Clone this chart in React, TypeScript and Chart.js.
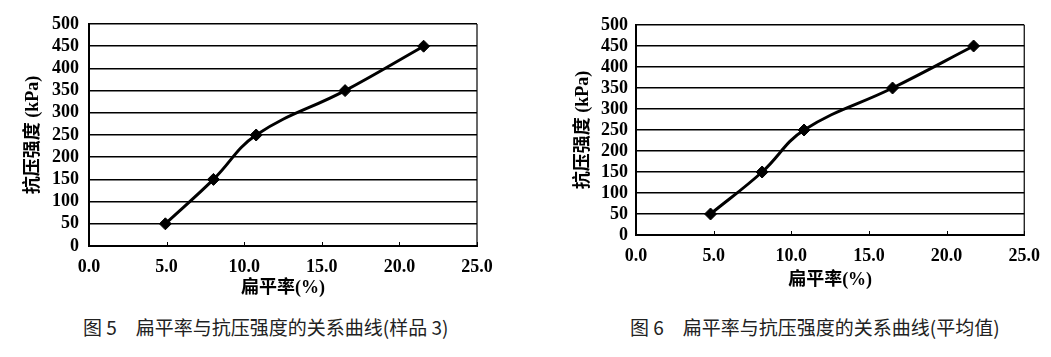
import React, { useEffect, useRef } from "react";
import { Chart, registerables } from "chart.js";

Chart.register(...registerables);

// ---- data ----
const xTickValues = [0, 5, 10, 15, 20, 25];
const xTickLabels = ["0.0", "5.0", "10.0", "15.0", "20.0", "25.0"];
const yTickValues = [0, 50, 100, 150, 200, 250, 300, 350, 400, 450, 500];

const sample3Flatness = [4.92, 8.02, 10.77, 16.5, 21.56];
const sample3Strength = [50, 150, 250, 350, 450];

const averageFlatness = [4.8, 8.12, 10.82, 16.52, 21.74];
const averageStrength = [50, 150, 250, 350, 450];

const xAxisTitle = "扁平率(%)";
const yAxisTitle = "抗压强度 (kPa)";
const caption5 = "图 5　扁平率与抗压强度的关系曲线(样品 3)";
const caption6 = "图 6　扁平率与抗压强度的关系曲线(平均值)";

const tickFont = { family: "'Liberation Serif', 'Noto Sans CJK SC'", size: 18, weight: "bold" as const };
const titleFont = { family: "'Liberation Serif', 'Noto Sans CJK SC'", size: 18, weight: "bold" as const, lineHeight: 1.2 };

const framePlugin = {
  id: "frame",
  afterDraw(chart: any) {
    const { ctx, chartArea } = chart;
    const xs = chart.scales.x;
    ctx.save();
    ctx.strokeStyle = "#000";
    ctx.lineWidth = 1.2;
    ctx.beginPath();
    ctx.moveTo(chartArea.right, chartArea.top);
    ctx.lineTo(chartArea.right, chartArea.bottom);
    ctx.stroke();
    ctx.lineWidth = 1;
    ctx.beginPath();
    xTickValues.forEach((v) => {
      const px = Math.round(xs.getPixelForValue(v)) + 0.5;
      ctx.moveTo(px, chartArea.bottom);
      ctx.lineTo(px, chartArea.bottom - 4);
    });
    ctx.stroke();
    ctx.restore();
  },
};

type Area = { left: number; top: number; right: number; bottom: number };

function LineChart(props: {
  xs: number[];
  ys: number[];
  left: number;
  width: number;
  height: number;
  area: Area;
  yTitlePad: number;
  xTitlePad: number;
  yTickPad: number;
  xTickPad: number;
}) {
  const ref = useRef<HTMLCanvasElement>(null);
  useEffect(() => {
    const { xs, ys, width, height, area, yTitlePad, xTitlePad, yTickPad, xTickPad } = props;
    const chart = new Chart(ref.current!, {
      type: "scatter",
      data: {
        datasets: [
          {
            data: xs.map((x, i) => ({ x, y: ys[i] })),
            showLine: true,
            tension: 0.4,
            borderColor: "#000",
            borderWidth: 3,
            pointStyle: "rectRot",
            pointRadius: 6,
            pointBackgroundColor: "#000",
            pointBorderColor: "#000",
            pointBorderWidth: 1,
          },
        ],
      },
      options: {
        responsive: false,
        animation: false,
        layout: { padding: { left: 0, top: area.top, right: width - area.right, bottom: 0 } },
        plugins: { legend: { display: false }, tooltip: { enabled: false } },
        scales: {
          x: {
            type: "linear",
            min: 0,
            max: 25,
            afterBuildTicks: (s: any) => {
              s.ticks = xTickValues.map((v) => ({ value: v }));
            },
            afterFit: (s: any) => {
              s.height = height - area.bottom;
            },
            ticks: {
              callback: (v: any) => xTickLabels[xTickValues.indexOf(Number(v))],
              font: tickFont,
              color: "#000",
              padding: xTickPad,
              maxRotation: 0,
              autoSkip: false,
            },
            grid: { drawOnChartArea: false, drawTicks: false },
            border: { display: true, color: "#000", width: 2 },
            title: {
              display: true,
              text: xAxisTitle,
              font: titleFont,
              color: "#000",
              padding: { top: 0, bottom: xTitlePad },
            },
          },
          y: {
            min: 0,
            max: 500,
            afterBuildTicks: (s: any) => {
              s.ticks = yTickValues.map((v) => ({ value: v }));
            },
            afterFit: (s: any) => {
              s.width = area.left;
            },
            ticks: { font: tickFont, color: "#000", padding: yTickPad, autoSkip: false },
            grid: { color: "#000", lineWidth: 1.5, drawTicks: false },
            border: { display: true, color: "#000", width: 2 },
            title: {
              display: true,
              text: yAxisTitle,
              font: titleFont,
              color: "#000",
              padding: { top: yTitlePad, bottom: 0 },
            },
          },
        },
      },
      plugins: [framePlugin],
    } as any);
    return () => chart.destroy();
  }, []);
  return (
    <canvas
      ref={ref}
      width={props.width}
      height={props.height}
      style={{ position: "absolute", left: props.left, top: 0, width: props.width, height: props.height }}
    />
  );
}

const captionStyle: React.CSSProperties = {
  position: "absolute",
  top: 315,
  fontFamily: "'Noto Sans CJK SC', sans-serif",
  fontSize: 19,
  lineHeight: "24px",
  color: "#222",
  whiteSpace: "pre",
};

export default function App() {
  return (
    <div style={{ position: "absolute", left: 0, top: 0, width: 1051, height: 357, background: "#fff", overflow: "hidden" }}>
      <LineChart
        xs={sample3Flatness}
        ys={sample3Strength}
        left={0}
        width={520}
        height={300}
        area={{ left: 89, top: 24, right: 477, bottom: 246 }}
        yTitlePad={23}
        xTitlePad={1}
        yTickPad={10}
        xTickPad={11}
      />
      <LineChart
        xs={averageFlatness}
        ys={averageStrength}
        left={560}
        width={491}
        height={300}
        area={{ left: 76, top: 25, right: 465, bottom: 235 }}
        yTitlePad={13}
        xTitlePad={9}
        yTickPad={8}
        xTickPad={11}
      />
      <div style={{ ...captionStyle, left: 83 }}>{caption5}</div>
      <div style={{ ...captionStyle, left: 630 }}>{caption6}</div>
    </div>
  );
}
